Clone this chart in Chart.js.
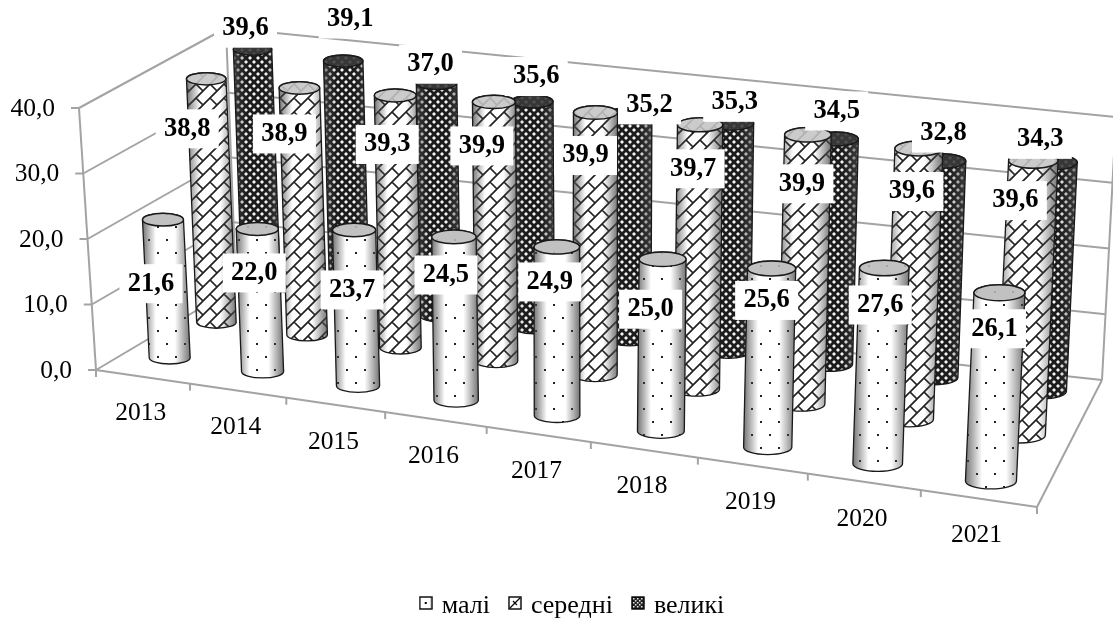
<!DOCTYPE html>
<html>
<head>
<meta charset="utf-8">
<script src="https://cdn.jsdelivr.net/npm/chart.js@4/dist/chart.umd.min.js"></script>
<style>
  html, body { margin: 0; padding: 0; background: #fff; }
  #chart { display: block; }
</style>
</head>
<body>
<canvas id="chart" width="1113" height="619"></canvas>
<script>
// data
const years = ['2013', '2014', '2015', '2016', '2017', '2018', '2019', '2020', '2021'];
const small = [21.6, 22.0, 23.7, 24.5, 24.9, 25.0, 25.6, 27.6, 26.1];
const medium = [38.8, 38.9, 39.3, 39.9, 39.9, 39.7, 39.9, 39.6, 39.6];
const large = [39.6, 39.1, 37.0, 35.6, 35.2, 35.3, 34.5, 32.8, 34.3];
const seriesNames = ['малі', 'середні', 'великі'];
const valueTicks = [0, 10, 20, 30, 40];

// the 3D box the scales are projected on: floor corners and how far each one rises at full height
const FLOOR = [[96, 370], [1037, 507], [1102, 380], [236, 287]];
const WALL_RISE = [[-17, -262], [15, -295], [14, -263], [-10, -259]];
const BAR_RISE = [[-15, -256], [15, -295], [14, -264], [-10, -246]];
const PERSPECTIVE = 0.127;
// depth of each row and its sideways drift, at the left and at the right end of the box
const DEPTH_LEFT = [0.23, 0.65, 0.98];
const DEPTH_RIGHT = [0.136, 0.5, 0.856];
const DRIFT_LEFT = [-4, -15, -15];
const DRIFT_RIGHT = [3, 8, 5];
// the labels were placed by hand in the original: default spot per row, then a nudge per label
const LABEL_SPOT = [[-14, 62], [-24, 58], [0, -24]];
const LABEL_NUDGE = [
  [[2, 2], [11, -18], [12, -2], [6, -24], [7, -27], [2, -12], [9, -30], [10, -25], [9, -26]],
  [[5, -8], [9, -12], [16, -9], [12, -14], [14, -15], [17, -14], [18, -9], [17, -15], [6, -18]],
  [[-7, 3], [7, -18], [-6, 5], [4, -1], [19, 15], [3, 3], [1, -4], [1, -4], [-13, 1]]
];
const FONT = '"Liberation Serif", "Times New Roman", serif';
const AXIS_GREY = '#a3a3a3';

function bilinear(q, u, v) {
  return [0, 1].map(k =>
    q[0][k] * (1 - u) * (1 - v) + q[1][k] * u * (1 - v) + q[2][k] * u * v + q[3][k] * (1 - u) * v);
}

function warp(u) { return u / (1 + PERSPECTIVE * (1 - u)); }

function project(u, v, h, rise) {
  const w = warp(u);
  const f = bilinear(FLOOR, w, v), r = bilinear(rise || WALL_RISE, w, v);
  return [f[0] + r[0] * h, f[1] + r[1] * h];
}

function rowDepth(ds, u) { return DEPTH_LEFT[ds] + (DEPTH_RIGHT[ds] - DEPTH_LEFT[ds]) * u; }
function rowDrift(ds, u) { return DRIFT_LEFT[ds] + (DRIFT_RIGHT[ds] - DRIFT_LEFT[ds]) * u; }

function tile(w, h, paint) {
  const c = document.createElement('canvas');
  c.width = w; c.height = h;
  paint(c.getContext('2d'));
  return c;
}

function dotsTile() {
  return tile(18, 26, g => {
    g.fillStyle = '#fff'; g.fillRect(0, 0, 18, 26);
    g.fillStyle = '#222';
    g.fillRect(4, 5, 2, 2);
    g.fillRect(13, 18, 2, 2);
  });
}

function brickTile() {
  const T = 28;
  return tile(T, T, g => {
    g.fillStyle = '#fff'; g.fillRect(0, 0, T, T);
    g.strokeStyle = '#222'; g.lineWidth = 1.7;
    g.beginPath();
    // long diagonals
    for (let k = 0; k <= 4; k++) {
      const s = k * T / 2;
      g.moveTo(s + 1, -1); g.lineTo(-1, s + 1);
    }
    // staggered short links, drawn in every neighbouring tile so they wrap
    [-T, 0, T].forEach(ox => [-T, 0, T].forEach(oy => {
      g.moveTo(ox, oy); g.lineTo(ox + T / 4, oy + T / 4);
      g.moveTo(ox + T / 2, oy); g.lineTo(ox + 3 * T / 4, oy + T / 4);
      g.moveTo(ox, oy + T / 2); g.lineTo(ox + T / 4, oy + 3 * T / 4);
      g.moveTo(ox + T / 2, oy + T / 2); g.lineTo(ox + 3 * T / 4, oy + 3 * T / 4);
    }));
    g.stroke();
  });
}

function checkTile() {
  return tile(8, 8, g => {
    g.fillStyle = '#1c1c1c'; g.fillRect(0, 0, 8, 8);
    g.fillStyle = '#f4f4f4';
    [[2, 2], [6, 6]].forEach(p => {
      g.beginPath();
      g.moveTo(p[0], p[1] - 2); g.lineTo(p[0] + 2, p[1]); g.lineTo(p[0], p[1] + 2); g.lineTo(p[0] - 2, p[1]);
      g.fill();
    });
  });
}

const ptx = document.getElementById('chart').getContext('2d');
const patterns = [dotsTile(), brickTile(), checkTile()].map(t => ptx.createPattern(t, 'repeat'));
const capColors = ['#b9b9b9', '#c4c4c4', '#3a3a3a'];

// legend swatches; the canvas is taller than the box so the box sits a bit above the text centre
function swatch(g, fill) {
  g.fillStyle = fill; g.fillRect(1, 1, 12, 12);
  g.strokeStyle = '#000'; g.lineWidth = 1.4; g.strokeRect(1, 1, 12, 12);
}
const legendIcons = [
  tile(14, 20, g => { swatch(g, '#fff'); g.fillStyle = '#000'; g.fillRect(6, 6, 2, 2); }),
  tile(14, 20, g => {
    swatch(g, '#fff');
    g.strokeStyle = '#000'; g.lineWidth = 1.2;
    g.beginPath(); g.moveTo(2, 12); g.lineTo(12, 2); g.moveTo(5, 5); g.lineTo(9, 9); g.stroke();
  }),
  tile(14, 20, g => {
    swatch(g, '#222');
    g.fillStyle = '#eee';
    for (let x = 2; x < 12; x += 2) for (let y = 2; y < 12; y += 2) if ((x + y) % 4 === 0) g.fillRect(x, y, 1.5, 1.5);
  })
];

function line(ctx, a, b) {
  ctx.beginPath(); ctx.moveTo(a[0], a[1]); ctx.lineTo(b[0], b[1]); ctx.stroke();
}

function fracX(chart, px) { return (px - chart.chartArea.left) / chart.chartArea.width; }
function fracY(chart, px) { return (chart.chartArea.bottom - px) / chart.chartArea.height; }

function drawCylinder(ctx, chart, el, dsIndex) {
  const u = fracX(chart, el.x), du = el.width / chart.chartArea.width / 2;
  const v = rowDepth(dsIndex, u), drift = rowDrift(dsIndex, u);
  const h = fracY(chart, el.y);
  const a = project(u - du, v, 0), b = project(u + du, v, 0);
  const rx = Math.hypot(b[0] - a[0], b[1] - a[1]) / 2, ry = rx * 0.31;
  const [bx0, by] = project(u, v, 0);
  const [tx0, ty] = project(u, v, h, BAR_RISE);
  const bx = bx0 + drift, tx = tx0 + drift;

  ctx.save();
  ctx.beginPath();
  ctx.moveTo(tx - rx, ty);
  ctx.lineTo(bx - rx, by);
  ctx.ellipse(bx, by, rx, ry, 0, Math.PI, 0, true);
  ctx.lineTo(tx + rx, ty);
  ctx.ellipse(tx, ty, rx, ry, 0, 0, Math.PI, true);
  ctx.closePath();
  ctx.fillStyle = patterns[dsIndex];
  ctx.fill();
  // round shading
  const grad = ctx.createLinearGradient(Math.min(tx, bx) - rx, 0, Math.max(tx, bx) + rx, 0);
  grad.addColorStop(0, 'rgba(70,70,70,0.75)');
  grad.addColorStop(0.28, 'rgba(70,70,70,0)');
  grad.addColorStop(0.68, 'rgba(70,70,70,0)');
  grad.addColorStop(1, 'rgba(70,70,70,0.75)');
  ctx.fillStyle = grad;
  ctx.fill();
  ctx.strokeStyle = '#1a1a1a';
  ctx.lineWidth = 1.3;
  ctx.stroke();

  // cap
  ctx.beginPath();
  ctx.ellipse(tx, ty, rx, ry, 0, 0, Math.PI * 2);
  ctx.fillStyle = capColors[dsIndex];
  ctx.fill();
  ctx.globalAlpha = 0.12;
  ctx.fillStyle = patterns[dsIndex];
  ctx.fill();
  ctx.globalAlpha = 1;
  ctx.lineWidth = 1.5;
  ctx.stroke();
  ctx.restore();
}

// walls, floor, ticks and axis labels
const box3d = {
  id: 'box3d',
  afterLayout(chart) {
    // legend sits lower and a little right of where the library centres it
    chart.legend.top += 10;
    chart.legend.left += 17;
    chart.legend.right += 17;
  },
  beforeDatasetsDraw(chart) {
    const ctx = chart.ctx, yScale = chart.scales.y, xScale = chart.scales.x;
    ctx.save();
    ctx.strokeStyle = AXIS_GREY;
    ctx.lineWidth = 2;
    ctx.fillStyle = '#000';
    ctx.font = '25.5px ' + FONT;
    ctx.textBaseline = 'middle';

    ctx.textAlign = 'right';
    valueTicks.forEach(t => {
      const h = fracY(chart, yScale.getPixelForValue(t));
      const a = project(0, 0, h), b = project(0, 1, h), c = project(1, 1, h);
      line(ctx, a, b);
      line(ctx, b, c);
      line(ctx, [a[0] - 8, a[1]], a);
      ctx.fillText(t.toFixed(1).replace('.', ','), a[0] - 24, a[1] + 1);
    });
    line(ctx, project(0, 0, 0), project(0, 0, 1));
    line(ctx, project(0, 1, 0), project(0, 1, 1));
    line(ctx, project(1, 1, 0), project(1, 1, 1));
    line(ctx, project(0, 0, 0), project(1, 0, 0));
    line(ctx, project(1, 0, 0), project(1, 1, 0));

    ctx.textAlign = 'center';
    for (let i = 0; i <= years.length; i++) {
      const p = project(i / years.length, 0, 0);
      line(ctx, p, [p[0], p[1] + 7]);
    }
    years.forEach((y, i) => {
      const p = project(fracX(chart, xScale.getPixelForValue(i)), 0, 0);
      ctx.fillText(y, p[0] - 2, p[1] + 37);
    });
    ctx.restore();
  },
  beforeDatasetDraw(chart, args) {
    const ctx = chart.ctx;
    args.meta.data.forEach(el => drawCylinder(ctx, chart, el, args.index));
    return false;
  },
  afterDatasetsDraw(chart) {
    const ctx = chart.ctx;
    ctx.save();
    ctx.font = 'bold 26.5px ' + FONT;
    ctx.textAlign = 'center';
    ctx.textBaseline = 'middle';
    // back rows first so the front labels stay on top
    [2, 1, 0].forEach(ds => {
      chart.getDatasetMeta(ds).data.forEach((el, i) => {
        const u = fracX(chart, el.x);
        const top = project(u, rowDepth(ds, u), fracY(chart, el.y), BAR_RISE);
        const x = top[0] + rowDrift(ds, u) + LABEL_SPOT[ds][0] + LABEL_NUDGE[ds][i][0];
        const y = top[1] + LABEL_SPOT[ds][1] + LABEL_NUDGE[ds][i][1];
        ctx.fillStyle = '#fff';
        ctx.fillRect(x - 31.5, y - 19.5, 63, 39);
        ctx.fillStyle = '#000';
        ctx.fillText(chart.data.datasets[ds].data[i].toFixed(1).replace('.', ','), x, y);
      });
    });
    ctx.restore();
  }
};

new Chart(document.getElementById('chart'), {
  type: 'bar',
  plugins: [box3d],
  data: {
    labels: years,
    datasets: [
      { label: seriesNames[0], data: small, backgroundColor: patterns[0] },
      { label: seriesNames[1], data: medium, backgroundColor: patterns[1] },
      { label: seriesNames[2], data: large, backgroundColor: patterns[2] }
    ]
  },
  options: {
    responsive: false,
    animation: false,
    datasets: { bar: { grouped: false, barPercentage: 0.44, categoryPercentage: 1 } },
    scales: {
      x: { display: false },
      y: { display: false, min: 0, max: 40, ticks: { stepSize: 10 } }
    },
    plugins: {
      tooltip: { enabled: false },
      legend: {
        position: 'bottom',
        labels: {
          usePointStyle: true,
          pointStyleWidth: 6,
          padding: 22,
          color: '#000',
          font: { family: FONT, size: 26 },
          generateLabels: chart => chart.data.datasets.map((d, i) => ({
            text: d.label, pointStyle: legendIcons[i], datasetIndex: i, hidden: false, fontColor: '#000'
          }))
        }
      }
    }
  }
});
</script>
</body>
</html>
